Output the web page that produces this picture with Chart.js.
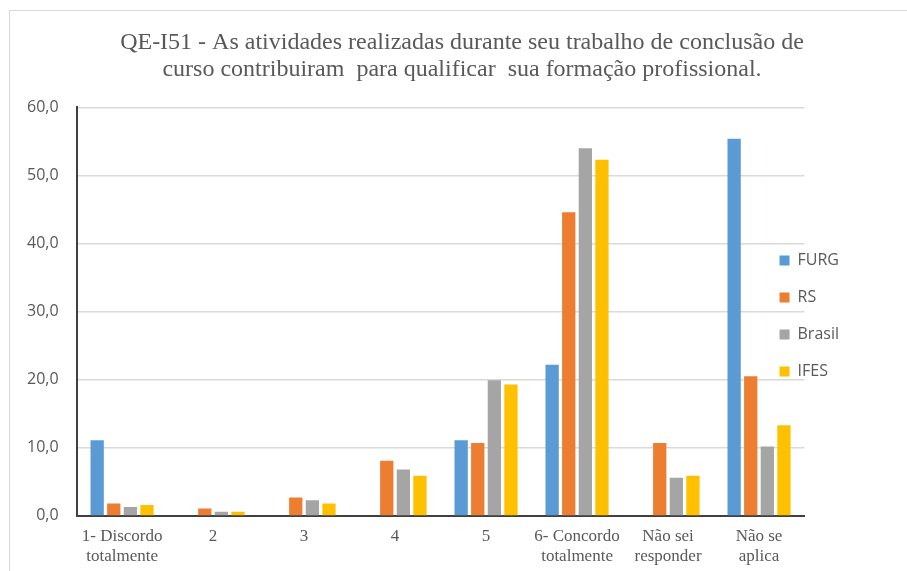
<!DOCTYPE html>
<html>
<head>
<meta charset="utf-8">
<script src="https://cdn.jsdelivr.net/npm/chart.js@4.4.1/dist/chart.umd.min.js"></script>
<style>
    body { margin: 0; background: #fff; overflow: hidden; }
    #frame { position: absolute; left: 9px; top: 10px; width: 930px; height: 600px; border: 1px solid #d9d9d9; }
    #wrap { position: absolute; left: 0; top: 0; width: 907px; height: 571px; }
</style>
</head>
<body>
<div id="frame"></div>
<div id="wrap"><canvas id="chart"></canvas></div>
<script>
const categories = [
    ['1- Discordo', 'totalmente'],
    '2',
    '3',
    '4',
    '5',
    ['6- Concordo', 'totalmente'],
    ['Não sei', 'responder'],
    ['Não se', 'aplica']
];
const furg = [11.1, 0, 0, 0, 11.1, 22.2, 0, 55.4];
const rs = [1.8, 1.1, 2.7, 8.1, 10.7, 44.6, 10.7, 20.5];
const brasil = [1.3, 0.6, 2.3, 6.8, 19.9, 54.0, 5.6, 10.2];
const ifes = [1.6, 0.6, 1.8, 5.9, 19.3, 52.3, 5.9, 13.3];

const textColor = '#595959';

// nudge legend into the plot and the title a bit right, like the Excel original
const nudge = {
    id: 'nudge',
    beforeDraw(chart) {
        const lg = chart.legend;
        if (lg && !lg._nudged) {
            lg.left -= 46; lg.right -= 46;
            lg.top += 27; lg.bottom += 27;
            lg._nudged = true;
        }
        const t = chart.titleBlock;
        if (t && !t._nudged) {
            t.left += 10; t.right += 10;
            t._nudged = true;
        }
    }
};

const ctx = document.getElementById('chart').getContext('2d');
new Chart(ctx, {
    type: 'bar',
    data: {
        labels: categories,
        datasets: [
            { label: 'FURG', data: furg, backgroundColor: '#5b9bd5' },
            { label: 'RS', data: rs, backgroundColor: '#ed7d31' },
            { label: 'Brasil', data: brasil, backgroundColor: '#a5a5a5' },
            { label: 'IFES', data: ifes, backgroundColor: '#ffc000' }
        ]
    },
    plugins: [nudge],
    options: {
        responsive: true,
        maintainAspectRatio: false,
        animation: false,
        layout: { padding: { left: 9, right: 12, top: 0, bottom: -7 } },
        datasets: { bar: { categoryPercentage: 0.73, barPercentage: 0.8 } },
        plugins: {
            title: {
                display: true,
                text: ['QE-I51 - As atividades realizadas durante seu trabalho de conclusão de', 'curso contribuiram  para qualificar  sua formação profissional.'],
                color: textColor,
                font: { family: '"Liberation Serif", serif', size: 24, weight: 'normal', lineHeight: 1.09 },
                padding: { top: 30, bottom: 25 }
            },
            legend: {
                position: 'right',
                labels: {
                    color: textColor,
                    font: { family: '"Open Sans", sans-serif', size: 16 },
                    boxWidth: 10,
                    boxHeight: 10,
                    padding: 21
                }
            },
            tooltip: { enabled: false }
        },
        scales: {
            x: {
                grid: { display: false, drawTicks: false },
                border: { display: true, color: '#404040', width: 2 },
                ticks: {
                    color: textColor,
                    font: { family: '"Liberation Serif", serif', size: 17, lineHeight: 1.18 },
                    maxRotation: 0,
                    autoSkip: false,
                    padding: 11
                }
            },
            y: {
                min: 0,
                max: 60,
                grid: { color: '#d9d9d9', lineWidth: 1.5, drawTicks: false },
                border: { display: true, color: '#404040', width: 2 },
                ticks: {
                    stepSize: 10,
                    color: textColor,
                    font: { family: '"Open Sans", sans-serif', size: 16 },
                    padding: 18,
                    callback: v => v.toFixed(1).replace('.', ',')
                }
            }
        }
    }
});
</script>
</body>
</html>
